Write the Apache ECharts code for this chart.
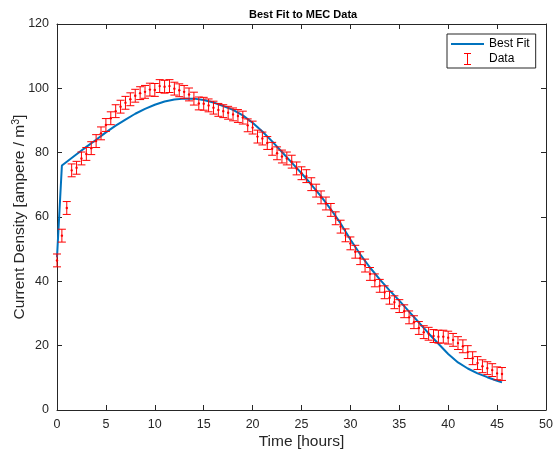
<!DOCTYPE html>
<html>
<head>
<meta charset="utf-8">
<script src="https://cdn.jsdelivr.net/npm/echarts@6/dist/echarts.min.js"></script>
<style>
  html, body { margin: 0; padding: 0; background: #fff; }
  #chart { width: 555px; height: 451px; }
</style>
</head>
<body>
<div id="chart"></div>
<script>
// measured data (hours, ampere / m^3)
const dataTime = [
  0, 0.5, 1, 1.5, 2, 2.5, 3, 3.5, 4, 4.5, 5, 5.5, 6, 6.5, 7, 7.5, 8, 8.5, 9, 9.5,
  10, 10.5, 11, 11.5, 12, 12.5, 13, 13.5, 14, 14.5, 15, 15.5, 16, 16.5, 17, 17.5,
  18, 18.5, 19, 19.5, 20, 20.5, 21, 21.5, 22, 22.5, 23, 23.5, 24, 24.5, 25, 25.5,
  26, 26.5, 27, 27.5, 28, 28.5, 29, 29.5, 30, 30.5, 31, 31.5, 32, 32.5, 33, 33.5,
  34, 34.5, 35, 35.5, 36, 36.5, 37, 37.5, 38, 38.5, 39, 39.5, 40, 40.5, 41, 41.5,
  42, 42.5, 43, 43.5, 44, 44.5, 45, 45.5
];
const dataValue = [
  46.5, 54.2, 62.8, 74.5, 75.3, 78.2, 79.6, 81.4, 83.6, 86.0, 88.6, 90.7, 92.9, 94.3, 95.5, 96.6, 97.7, 98.5, 98.9, 99.6,
  99.5, 100.7, 100.5, 100.7, 99.9, 99.4, 98.9, 98.1, 96.8, 95.3, 95.2, 94.7, 94.0, 93.3, 92.9, 92.4,
  91.9, 91.4, 90.9, 88.5, 87.8, 85.0, 84.4, 83.0, 81.2, 79.8, 78.8, 78.2, 77.2, 75.1, 73.6, 72.7,
  70.2, 68.2, 66.1, 64.2, 62.2, 59.6, 57.0, 54.3, 51.8, 49.2, 47.2, 44.9, 42.3, 40.3, 38.6, 36.6,
  34.9, 33.5, 32.3, 30.7, 28.8, 27.3, 25.5, 24.2, 23.7, 23.0, 22.8, 22.8, 22.5, 21.8, 20.8, 19.8,
  18.0, 16.1, 14.6, 13.6, 13.0, 12.4, 11.4, 11.2
];
const errorHalf = 2;

// best fit curve
const fitTime = [
  0, 0.5, 1, 2, 3, 4, 5, 6, 7, 8, 9, 10, 11, 12, 13, 14, 15, 16, 17, 18, 19, 20,
  21, 22, 23, 24, 25, 26, 27, 28, 29, 30, 31, 32, 33, 34, 35, 36, 37, 38, 39, 40,
  41, 42, 43, 44, 45, 45.5
];
const fitValue = [
  47.5, 76.0, 77.2, 79.5, 81.8, 84.0, 86.3, 88.4, 90.3, 92.1, 93.6, 94.9, 95.9, 96.5, 96.8, 96.8, 96.4, 95.6, 94.5, 93.3, 91.6, 89.3,
  86.6, 83.5, 80.2, 76.9, 73.6, 70.1, 66.4, 62.4, 58.0, 53.0, 48.4, 44.3, 40.6, 37.2, 34.0, 30.6, 27.2, 23.8, 20.6, 17.4,
  14.8, 12.9, 11.4, 10.2, 9.1, 8.6
];

const axisColor = '#262626';
const fontFamily = 'Liberation Sans, Arial, sans-serif';

const chart = echarts.init(document.getElementById('chart'));

const errorData = dataTime.map((t, i) => [t, dataValue[i], dataValue[i] - errorHalf, dataValue[i] + errorHalf]);
const fitData = fitTime.map((t, i) => [t, fitValue[i]]);

const renderErrorBar = (params, api) => {
  const x = api.value(0);
  const mid = api.coord([x, api.value(1)]);
  const lo = api.coord([x, api.value(2)]);
  const hi = api.coord([x, api.value(3)]);
  const cap = 4;
  const style = { stroke: '#ff0000', lineWidth: 1 };
  return {
    type: 'group',
    children: [
      { type: 'line', shape: { x1: lo[0], y1: lo[1], x2: hi[0], y2: hi[1] }, style },
      { type: 'line', shape: { x1: lo[0] - cap, y1: lo[1], x2: lo[0] + cap, y2: lo[1] }, style },
      { type: 'line', shape: { x1: hi[0] - cap, y1: hi[1], x2: hi[0] + cap, y2: hi[1] }, style },
      { type: 'circle', shape: { cx: mid[0], cy: mid[1], r: 1.2 }, style: { fill: '#ff0000' } }
    ]
  };
};

const baseAxis = {
  min: 0,
  axisLine: { show: true, onZero: false, lineStyle: { color: axisColor, width: 1 } },
  axisTick: { show: true, inside: true, length: 5, lineStyle: { color: axisColor } },
  splitLine: { show: false },
  axisLabel: { color: axisColor, fontSize: 12.5, fontFamily }
};

const option = {
  backgroundColor: '#fff',
  animation: false,
  title: {
    text: 'Best Fit to MEC Data',
    left: 244,
    top: 4,
    textStyle: { fontSize: 11, fontWeight: 'bold', color: '#000', fontFamily }
  },
  grid: { left: 57, right: 9, top: 24, bottom: 41, containLabel: false, outerBoundsMode: 'none' },
  legend: {
    left: 447,
    top: 34,
    orient: 'vertical',
    backgroundColor: '#fff',
    borderColor: axisColor,
    borderWidth: 1,
    borderRadius: 0,
    padding: [4, 6, 3, 4],
    itemGap: 3,
    itemWidth: 33,
    itemHeight: 12,
    textStyle: { fontSize: 12, color: '#000', fontFamily, padding: [0, 0, 0, 0] },
    data: [
      { name: 'Best Fit', icon: 'path://M0,0 H33 V2 H0 Z' },
      { name: 'Data', icon: 'path://M0,0 H7 V1 H4 V11 H7 V12 H0 V11 H3 V1 H0 Z' }
    ]
  },
  xAxis: [
    Object.assign({}, baseAxis, {
      type: 'value', max: 50, interval: 5, position: 'bottom',
      name: 'Time [hours]', nameLocation: 'middle', nameGap: 24,
      nameMoveOverlap: false,
      nameTextStyle: { color: axisColor, fontSize: 15.5, fontFamily }
    }),
    Object.assign({}, baseAxis, {
      type: 'value', max: 50, interval: 5, position: 'top',
      axisLabel: { show: false }
    })
  ],
  yAxis: [
    Object.assign({}, baseAxis, {
      type: 'value', max: 120, interval: 20, position: 'left',
      name: '{a|Current Density [ampere / m}{s|3}{a|]}',
      nameLocation: 'middle', nameGap: 28,
      nameMoveOverlap: false,
      nameTextStyle: {
        rich: {
          a: { color: axisColor, fontSize: 15.5, fontFamily },
          s: { color: axisColor, fontSize: 10.5, fontFamily, verticalAlign: 'top', padding: [0, 0, 7, 0] }
        }
      }
    }),
    Object.assign({}, baseAxis, {
      type: 'value', max: 120, interval: 20, position: 'right',
      axisLabel: { show: false }
    })
  ],
  series: [
    {
      name: 'Best Fit',
      type: 'line',
      data: fitData,
      symbol: 'none',
      lineStyle: { color: '#0072bd', width: 2 },
      itemStyle: { color: '#0072bd' },
      z: 2
    },
    {
      name: 'Data',
      type: 'custom',
      data: errorData,
      renderItem: renderErrorBar,
      encode: { x: 0, y: [1, 2, 3] },
      itemStyle: { color: '#ff0000' },
      z: 3
    }
  ]
};

chart.setOption(option);
</script>
</body>
</html>
